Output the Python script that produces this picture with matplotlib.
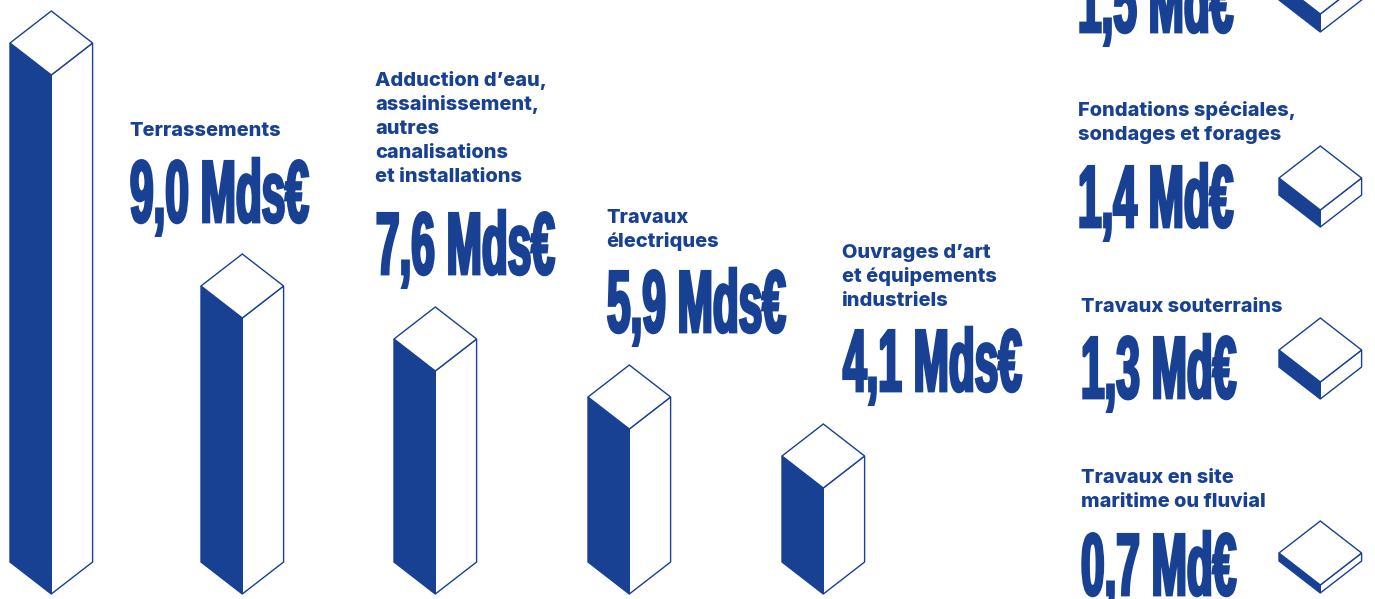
import matplotlib
matplotlib.use("Agg")
import matplotlib.pyplot as plt
from matplotlib.patches import Polygon
from matplotlib.patheffects import AbstractPathEffect
from matplotlib.text import Text
from matplotlib.transforms import Affine2D, Bbox

BLUE = "#184093"

# categories and amounts
column_labels = ["Terrassements",
	"Adduction d’eau,\nassainissement,\nautres\ncanalisations\net installations",
	"Travaux\nélectriques",
	"Ouvrages d’art\net équipements\nindustriels"]
column_amounts = ["9,0 Mds€", "7,6 Mds€", "5,9 Mds€", "4,1 Mds€"]
# the first column has its caption outside of the crop
column_heights = [519, 276, 223, 165, 106]

box_labels = ["", "Fondations spéciales,\nsondages et forages", "Travaux souterrains", "Travaux en site\nmaritime ou fluvial"]
box_amounts = ["1,5 Md€", "1,4 Md€", "1,3 Md€", "0,7 Md€"]
box_heights = [18, 17, 17, 8]

SQUEEZE = 0.48


# squeezes the glyphs sideways and fattens them, there is no heavy condensed font here
class Condensed(AbstractPathEffect):
	def __init__(self, sx, stroke):
		super().__init__()
		self.sx = sx
		self.stroke = stroke

	def draw_path(self, renderer, gc, tpath, affine, rgbFace):
		gc0 = renderer.new_gc()
		gc0.copy_properties(gc)
		gc0.set_linewidth(self.stroke)
		gc0.set_foreground(rgbFace)
		gc0.set_joinstyle("miter")
		renderer.draw_path(gc0, tpath, Affine2D().scale(self.sx, 1) + affine, rgbFace)
		gc0.restore()


# same text, but its layout box has the width it really takes once squeezed
class CondensedText(Text):
	def _get_layout(self, renderer):
		bb, info, descent = super()._get_layout(renderer)
		return Bbox.from_bounds(bb.x0, bb.y0, bb.width * SQUEEZE, bb.height), info, descent


# isometric block: x is the left corner, bottom the lowest point of the front edge
def draw_block(ax, x, bottom, height, half_w=41.3, half_d=32):
	cx = x + half_w
	rx = x + 2 * half_w
	top = bottom - height
	ax.add_patch(Polygon([(x, top - half_d), (cx, top), (cx, bottom), (x, bottom - half_d)],
		closed=True, fc=BLUE, ec=BLUE, lw=1))
	ax.add_patch(Polygon([(cx, top), (rx, top - half_d), (rx, bottom - half_d), (cx, bottom)],
		closed=True, fc="white", ec=BLUE, lw=1))
	ax.add_patch(Polygon([(x, top - half_d), (cx, top - 2 * half_d), (rx, top - half_d), (cx, top)],
		closed=True, fc="white", ec=BLUE, lw=1))


def draw_label(ax, x, baseline, label):
	for i, line in enumerate(label.split("\n")):
		ax.text(x, baseline + i * 24, line, family="Inter", weight=800, fontsize=14.4,
			color=BLUE, va="baseline", ha="left")


def draw_amount(ax, x, baseline, amount):
	t = CondensedText(x, baseline - 1, amount, family="Liberation Sans", weight="bold", fontsize=63.5,
		color=BLUE, va="baseline", ha="left", path_effects=[Condensed(SQUEEZE, 2)])
	ax.add_artist(t)


fig = plt.figure(figsize=(13.75, 5.99), dpi=100)
ax = fig.add_axes([0, 0, 1, 1])
ax.set_xlim(0, 1375)
ax.set_ylim(599, 0)
ax.axis("off")

column_x = [10, 201, 394, 588, 782]
for x, h in zip(column_x, column_heights):
	draw_block(ax, x, 594, h)

label_x = [129, 375, 606, 842]
label_y = [136, 86, 223, 258]
amount_y = [223, 275, 333, 392]
for i in range(4):
	draw_label(ax, label_x[i], label_y[i], column_labels[i])
	draw_amount(ax, label_x[i] + 1, amount_y[i], column_amounts[i])

box_bottom = [32, 227, 399, 593]
right_x = [1078, 1078, 1081, 1081]
right_label_y = [0, 116, 312, 483]
right_amount_y = [33, 228, 399, 596]
for i in range(4):
	draw_block(ax, 1279, box_bottom[i], box_heights[i])
	if box_labels[i]:
		draw_label(ax, right_x[i], right_label_y[i], box_labels[i])
	draw_amount(ax, right_x[i], right_amount_y[i], box_amounts[i])

fig.savefig("out.png", dpi=100)
